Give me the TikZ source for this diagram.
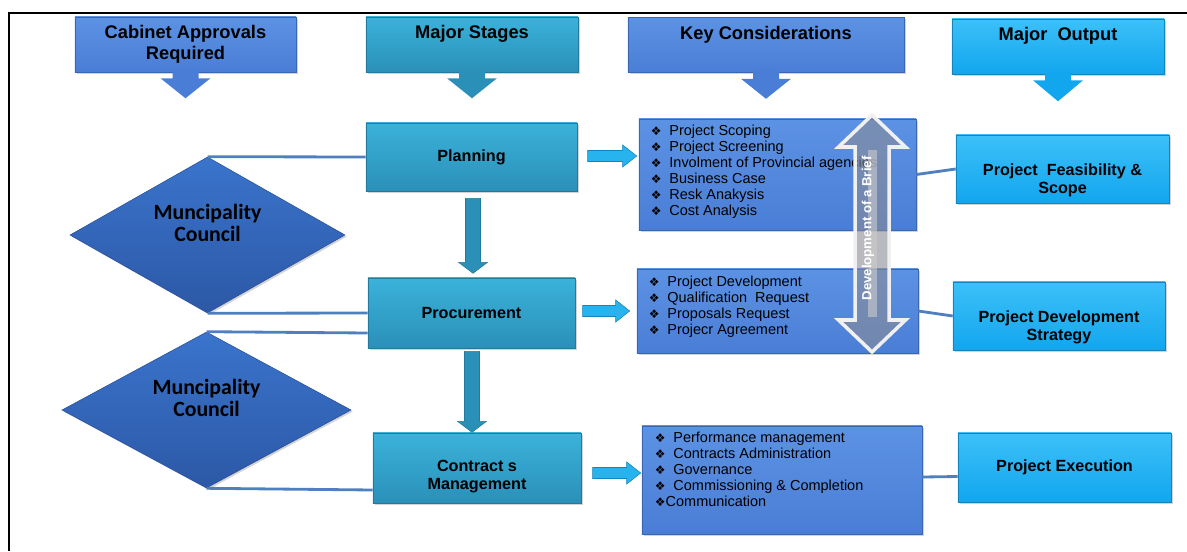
\documentclass[tikz,border=0pt]{standalone}
\usepackage{fontspec}
\usepackage{tikz}
\setmainfont{Liberation Sans}
\newfontfamily\calfont{Carlito}
\newfontfamily\symfont{DejaVu Sans}
\usetikzlibrary{shapes.geometric,shadows,calc,positioning}

\definecolor{keyblue}{HTML}{4A7ED6}
\definecolor{keytop}{HTML}{5C92E4}
\definecolor{keyline}{HTML}{3A66B0}
\definecolor{stageteal}{HTML}{2B90B8}
\definecolor{tealtop}{HTML}{3AB2DA}
\definecolor{tealline}{HTML}{237A9C}
\definecolor{sky}{HTML}{12A6EE}
\definecolor{skytop}{HTML}{3CC0F8}
\definecolor{skyline}{HTML}{1284BE}
\definecolor{arrsky}{HTML}{27B4EE}
\definecolor{dia}{HTML}{2C58A6}
\definecolor{diatop}{HTML}{3A74CC}
\definecolor{dialine}{HTML}{28509A}
\definecolor{linkblue}{HTML}{4F7FBF}
\definecolor{briefgray}{HTML}{8A8C96}

\newcommand{\kbullet}{{\symfont\fontsize{8.5}{8}\selectfont ❖}}
\newcommand{\kitem}[1]{\kbullet\hspace{5.5pt}#1}

\begin{document}
\begin{tikzpicture}[x=0.025cm,y=-0.025cm,
	panel/.style={rectangle,inner sep=0pt,line width=0.4pt,drop shadow={opacity=0.35,shadow xshift=1.2pt,shadow yshift=-1.2pt}},
	keybox/.style={panel,draw=keyline,top color=keytop,bottom color=keyblue},
	stagebox/.style={panel,draw=tealline,top color=tealtop,bottom color=stageteal,font=\bfseries\fontsize{11.5}{12.8}\selectfont,align=center},
	outbox/.style={panel,draw=skyline,top color=skytop,bottom color=sky},
	council/.style={diamond,inner sep=0pt,draw=dialine,top color=diatop,bottom color=dia,drop shadow={opacity=0.35,shadow xshift=1.2pt,shadow yshift=-1.2pt}},
	hdtxt/.style={font=\bfseries\fontsize{13}{15}\selectfont,align=center,anchor=north,inner sep=0pt,yshift=-6pt},
	outtxt/.style={font=\bfseries\fontsize{11.5}{12.8}\selectfont,align=center,inner sep=0pt},
	ctxt/.style={font=\calfont\bfseries\fontsize{15.5}{15.3}\selectfont,align=center,inner sep=0pt,yshift=8.5pt},
	klist/.style={font=\fontsize{10.3}{11.4}\selectfont,align=left,anchor=north west,inner sep=0pt},
	link/.style={draw=linkblue,line width=2pt},
	darr/.style={fill=stageteal,draw=tealline,line width=0.4pt},
	rarr/.style={fill=arrsky,draw=skyline,line width=0.4pt},
	brief/.style={draw=gray!12,line width=2.5pt,line join=miter,fill=briefgray,fill opacity=0.6},
	brieftxt/.style={rotate=90,text=white,font=\bfseries\fontsize{9.4}{10}\selectfont,inner sep=0pt}
	]
	\useasboundingbox (0,0) rectangle (1187,551);
	\draw[line width=1.4pt] (9,551) -- (9,13) -- (1187,13);

	% column heads
	\node[keybox,minimum width=5.525cm,minimum height=1.375cm] (hdA) at (185.5,44.5) {};
	\node[stagebox,minimum width=5.3cm,minimum height=1.375cm] (hdB) at (472,44.5) {};
	\node[keybox,minimum width=6.9cm,minimum height=1.375cm] (hdC) at (766,45) {};
	\node[outbox,minimum width=5.3cm,minimum height=1.375cm] (hdD) at (1058,46.5) {};
	\fill[keyblue,shift={(hdA.south)}] (-13,-2) -- (13,-2) -- (13,6) -- (25,6) -- (0,26) -- (-25,6) -- (-13,6) -- cycle;
	\fill[stageteal,shift={(hdB.south)}] (-13,-2) -- (13,-2) -- (13,6) -- (25,6) -- (0,26) -- (-25,6) -- (-13,6) -- cycle;
	\fill[keyblue,shift={(hdC.south)}] (-13,-2) -- (13,-2) -- (13,6) -- (25,6) -- (0,26) -- (-25,6) -- (-13,6) -- cycle;
	\fill[sky,shift={(hdD.south)}] (-13,-2) -- (13,-2) -- (13,6) -- (25,6) -- (0,27) -- (-25,6) -- (-13,6) -- cycle;
	\node[hdtxt] (hdAtxt) at (hdA.north) {Cabinet Approvals\\Required};
	\node[hdtxt] (hdBtxt) at (hdB.north) {Major Stages};
	\node[hdtxt] (hdCtxt) at (hdC.north) {Key Considerations};
	\node[hdtxt] (hdDtxt) at (hdD.north) {Major\ \ Output};

	% council diamonds
	\node[council,minimum width=6.875cm,minimum height=3.9cm] (mc1) at (207.5,235) {};
	\node[council,minimum width=7.225cm,minimum height=3.9cm] (mc2) at (206.5,410) {};
	\node[ctxt] (mc1txt) at (mc1.center) {Muncipality\\Council};
	\node[ctxt] (mc2txt) at (mc2.center) {Muncipality\\Council};

	% stages
	\node[stagebox,minimum width=5.275cm,minimum height=1.7cm] (plan) at (471.5,157) {Planning};
	\node[stagebox,minimum width=5.175cm,minimum height=1.75cm] (proc) at (471.5,313) {Procurement};
	\node[stagebox,minimum width=5.2cm,minimum height=1.75cm] (cm) at (477,468) {};
	\node[outtxt] (cmtxt) at ($(cm.center)+(0,9)$) {Contract s\\Management};

	\draw[link] (mc1.north) -- (plan.west);
	\draw[link] (mc1.south) -- (proc.west);
	\draw[link] (mc2.north) -- ($(proc.west)+(0,20)$);
	\draw[link] (mc2.south) -- ($(cm.west)+(0,22)$);

	\filldraw[darr,shift={(plan.south)}] (-6,7) -- (9,7) -- (9,71) -- (16,71) -- (1.5,82) -- (-13,71) -- (-6,71) -- cycle;
	\filldraw[darr,shift={(proc.south)}] (-7,3) -- (8,3) -- (8,73) -- (15,73) -- (0.5,84) -- (-14,73) -- (-7,73) -- cycle;

	% key considerations
	\node[keybox,minimum width=6.925cm,minimum height=2.775cm] (k1) at (777.5,174.5) {};
	\node[keybox,minimum width=7.025cm,minimum height=2.1cm] (k2) at (777.5,311) {};
	\node[keybox,minimum width=7cm,minimum height=2.7cm] (k3) at (782,480) {};
	\node[klist] (k1list) at ($(k1.north west)+(12,6)$) {\kitem{Project Scoping}\\\kitem{Project Screening}\\\kitem{Involment of Provincial agencies}\\\kitem{Business Case}\\\kitem{Resk Anakysis}\\\kitem{Cost Analysis}};
	\node[klist] (k2list) at ($(k2.north west)+(12,7)$) {\kitem{Project Development}\\\kitem{Qualification\ \ Request}\\\kitem{Proposals Request}\\\kitem{Projecr Agreement}};
	\node[klist] (k3list) at ($(k3.north west)+(13,6)$) {\kitem{Performance management}\\\kitem{Contracts Administration}\\\kitem{Governance}\\\kitem{Commissioning \& Completion}\\\kbullet Communication};

	\filldraw[rarr,shift={($(k1.west |- plan.east)+(-2,-1)$)}] (-49,-5.5) -- (-14,-5.5) -- (-14,-11) -- (0,0) -- (-14,11) -- (-14,5.5) -- (-49,5.5) -- cycle;
	\filldraw[rarr,shift={($(k2.west |- proc.east)+(-7,-2)$)}] (-47,-5.5) -- (-14,-5.5) -- (-14,-11) -- (0,0) -- (-14,11) -- (-14,5.5) -- (-47,5.5) -- cycle;
	\filldraw[rarr,shift={($(k3.west |- cm.east)+(-1,5)$)}] (-48,-5.5) -- (-14,-5.5) -- (-14,-11) -- (0,0) -- (-14,11) -- (-14,5.5) -- (-48,5.5) -- cycle;

	% outputs
	\node[outbox,minimum width=5.325cm,minimum height=1.7cm] (o1) at (1062.5,169) {};
	\node[outbox,minimum width=5.3cm,minimum height=1.7cm] (o2) at (1059,316) {};
	\node[outbox,minimum width=5.325cm,minimum height=1.725cm] (o3) at (1064.5,467.5) {};
	\node[outtxt] (o1txt) at ($(o1.center)+(0,11)$) {Project\ \ Feasibility \&\\Scope};
	\node[outtxt] (o2txt) at ($(o2.center)+(0,11)$) {Project Development\\Strategy};
	\node[outtxt] (o3txt) at (o3.center) {Project Execution};

	\draw[link] (k1.east) -- (o1.west);
	\draw[link] (k2.east) -- (o2.west);
	\draw[link] ($(k3.east)+(0,-3)$) -- ($(o3.west)+(0,9)$);

	% development of a brief
	\coordinate (brief) at (872,233.5);
	\filldraw[brief,shift={(brief)}] (0,-118.5) -- (33.5,-86.5) -- (17,-86.5) -- (17,86.5) -- (33.5,86.5) -- (0,118.5) -- (-33.5,86.5) -- (-17,86.5) -- (-17,-86.5) -- (-33.5,-86.5) -- cycle;
	\fill[gray!40,opacity=0.6] ($(brief)+(-4,-83)$) rectangle ($(brief)+(5,83)$);
	\node[brieftxt] (brieftext) at ($(brief)+(-4,-5)$) {Development of a Brief};
\end{tikzpicture}
\end{document}
